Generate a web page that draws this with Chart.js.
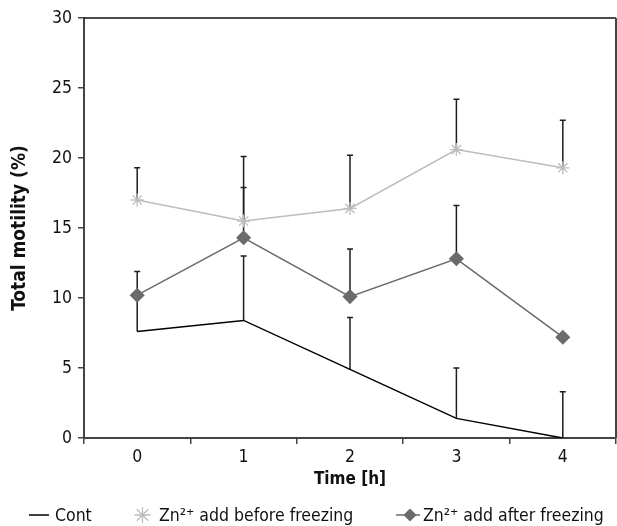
<!DOCTYPE html>
<html>
<head>
<meta charset="utf-8">
<script src="https://cdn.jsdelivr.net/npm/chart.js@4.4.1/dist/chart.umd.min.js"></script>
<style>
    body { margin: 0; background: #fff; }
    #wrap { position: relative; width: 617px; height: 526px; }
    #legend { position: absolute; left: 0; top: 503px; width: 617px; height: 24px;
              font-family: "DejaVu Sans Condensed", "DejaVu Sans", sans-serif; font-size: 17.5px; color: #111; }
    #legend .item { position: absolute; top: 0; height: 24px; line-height: 24px; white-space: nowrap; }
    #legend svg { vertical-align: top; }
</style>
</head>
<body>
<div id="wrap">
    <canvas id="motilityChart" width="617" height="526"></canvas>
    <div id="legend"></div>
</div>
<script>
var hours = ["0", "1", "2", "3", "4"];
var yTicks = [0, 5, 10, 15, 20, 25, 30];

var contMean = [7.6, 8.4, 4.9, 1.4, 0];
var contErr = [2.7, 4.6, 3.7, 3.6, 3.3];
var beforeMean = [17.0, 15.5, 16.4, 20.6, 19.3];
var beforeErr = [2.3, 4.6, 3.8, 3.6, 3.4];
var afterMean = [10.2, 14.3, 10.1, 12.8, 7.2];
var afterErr = [1.7, 3.6, 3.4, 3.8, 0];

var seriesNames = ["Cont", "Zn\u00b2\u207a add before freezing", "Zn\u00b2\u207a add after freezing"];

Chart.defaults.font.family = '"DejaVu Sans Condensed", "DejaVu Sans", sans-serif';
Chart.defaults.color = '#111';

// legend keys (drawn as small svg, placed under the chart)
var legendKeys = [
    { left: 29, w: 26, svg: '<line x1="0" y1="12" x2="20" y2="12" stroke="#000" stroke-width="1.5"/>' },
    { left: 133, w: 26, svg: '<path d="M1.5 12H17.5M9.5 4V20M3.8 6.3L15.2 17.7M15.2 6.3L3.8 17.7" stroke="#bdbdbd" stroke-width="1.3" fill="none"/>' },
    { left: 396, w: 27, svg: '<line x1="0" y1="12" x2="24" y2="12" stroke="#6b6b6b" stroke-width="1.5"/><path d="M14 5.5L20.5 12L14 18.5L7.5 12Z" fill="#6b6b6b"/>' }
];
var legendDiv = document.getElementById('legend');
seriesNames.forEach(function (name, i) {
    var k = legendKeys[i];
    var item = document.createElement('span');
    item.className = 'item';
    item.style.left = k.left + 'px';
    item.innerHTML = '<svg width="' + k.w + '" height="24">' + k.svg + '</svg>';
    item.appendChild(document.createTextNode(name));
    legendDiv.appendChild(item);
});

var errorBars = {
    id: 'errorBars',
    beforeDatasetsDraw: function (chart) {
        var ctx = chart.ctx, yScale = chart.scales.y;
        ctx.save();
        ctx.strokeStyle = '#1e1e1e';
        ctx.lineWidth = 1.5;
        chart.data.datasets.forEach(function (ds, i) {
            var meta = chart.getDatasetMeta(i);
            ds.errors.forEach(function (e, j) {
                if (!e) return;
                var pt = meta.data[j];
                var top = yScale.getPixelForValue(ds.data[j] + e);
                ctx.beginPath();
                ctx.moveTo(pt.x, pt.y);
                ctx.lineTo(pt.x, top);
                ctx.moveTo(pt.x - 3, top);
                ctx.lineTo(pt.x + 3, top);
                ctx.stroke();
            });
        });
        ctx.restore();
    }
};

var frame = {
    id: 'frame',
    afterDraw: function (chart) {
        var a = chart.chartArea, ctx = chart.ctx;
        ctx.save();
        ctx.strokeStyle = '#111';
        ctx.lineWidth = 1.5;
        ctx.beginPath(); ctx.moveTo(a.left, a.top); ctx.lineTo(a.right, a.top); ctx.stroke();
        ctx.strokeStyle = '#444';
        ctx.lineWidth = 2;
        ctx.beginPath(); ctx.moveTo(a.right, a.top); ctx.lineTo(a.right, a.bottom); ctx.stroke();
        ctx.restore();
    }
};

var lineData = {
    labels: hours,
    datasets: [
        {
            label: seriesNames[0],
            data: contMean,
            errors: contErr,
            borderColor: '#000',
            borderWidth: 1.5,
            pointRadius: 0,
            tension: 0
        },
        {
            label: seriesNames[1],
            data: beforeMean,
            errors: beforeErr,
            borderColor: '#bdbdbd',
            borderWidth: 1.5,
            pointStyle: 'star',
            pointRadius: 6.5,
            pointBorderColor: '#bdbdbd',
            pointBorderWidth: 1.3,
            pointBackgroundColor: 'rgba(0,0,0,0)',
            tension: 0
        },
        {
            label: seriesNames[2],
            data: afterMean,
            errors: afterErr,
            borderColor: '#6b6b6b',
            borderWidth: 1.5,
            pointStyle: 'rectRot',
            pointRadius: 6.5,
            pointBorderColor: '#6b6b6b',
            pointBackgroundColor: '#6b6b6b',
            tension: 0
        }
    ]
};

var lineOptions = {
    responsive: false,
    animation: false,
    layout: { autoPadding: false, padding: { top: 18, right: 1, left: 0, bottom: 34 } },
    plugins: {
        tooltip: { enabled: false },
        legend: { display: false }
    },
    scales: {
        x: {
            offset: true,
            grid: { offset: true, drawOnChartArea: false, tickLength: 6, color: '#444', lineWidth: 1.5 },
            border: { color: '#444', width: 2 },
            ticks: { font: { size: 17.5 }, padding: 3, color: '#111' },
            title: { display: true, text: 'Time [h]', font: { size: 17, weight: 'bold' }, color: '#111', padding: { top: 2, bottom: 2 } },
            afterFit: function (s) { s.height = 54; }
        },
        y: {
            min: 0,
            max: 30,
            afterBuildTicks: function (s) { s.ticks = yTicks.map(function (v) { return { value: v }; }); },
            grid: { drawOnChartArea: false, tickLength: 6, color: '#444', lineWidth: 1.5 },
            border: { color: '#444', width: 2 },
            ticks: { font: { size: 17.5 }, padding: 6, color: '#111' },
            title: { display: true, text: 'Total motility (%)', font: { size: 19, weight: 'bold' }, color: '#111', padding: { top: 8.6, bottom: 8.6 } },
            afterFit: function (s) { s.width = 84; }
        }
    }
};

var ctx = document.getElementById("motilityChart").getContext("2d");
new Chart(ctx, { type: 'line', data: lineData, options: lineOptions, plugins: [errorBars, frame] });
</script>
</body>
</html>
